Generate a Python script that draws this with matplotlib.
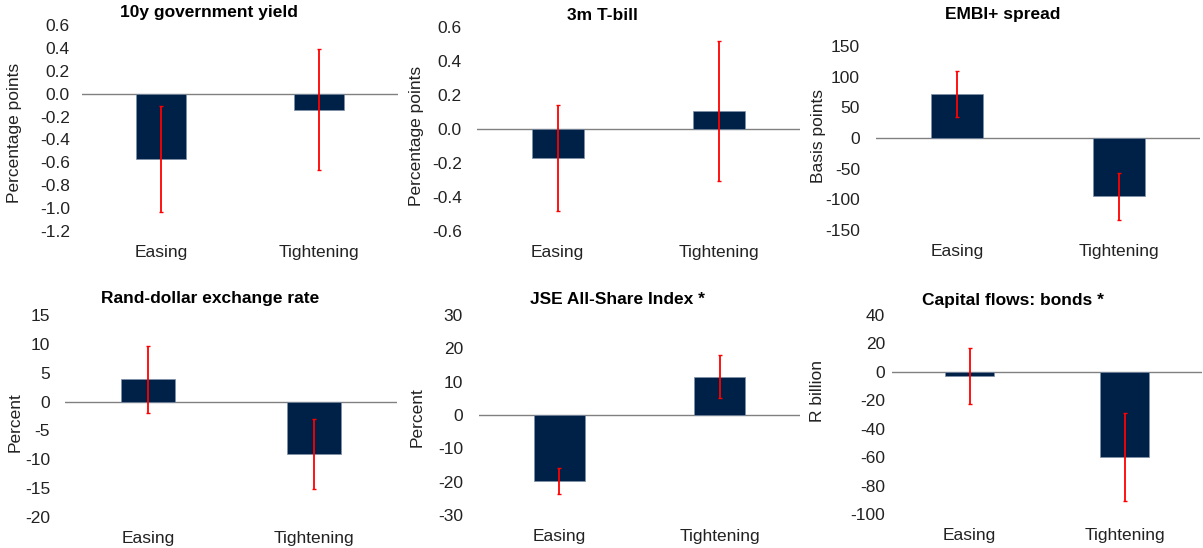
import matplotlib.pyplot as plt
import numpy as np

plt.rcParams['font.family'] = ['Liberation Sans', 'DejaVu Sans']

# Data
categories = ['Easing', 'Tightening']

titles = ['10y government yield', '3m T-bill', 'EMBI+ spread',
          'Rand-dollar exchange rate', 'JSE All-Share Index *', 'Capital flows: bonds *']
ylabels = ['Percentage points', 'Percentage points', 'Basis points',
           'Percent', 'Percent', 'R billion']

yield_10y = [-0.57, -0.14]
yield_10y_err = [0.46, 0.53]
tbill_3m = [-0.17, 0.105]
tbill_3m_err = [0.31, 0.41]
embi_spread = [71, -95]
embi_spread_err = [37.5, 38]
rand_dollar = [3.9, -9.05]
rand_dollar_err = [5.8, 6.1]
jse_alsi = [-19.8, 11.5]
jse_alsi_err = [3.9, 6.5]
bond_flows = [-3.0, -59.7]
bond_flows_err = [19.7, 31]

values = [yield_10y, tbill_3m, embi_spread, rand_dollar, jse_alsi, bond_flows]
errors = [yield_10y_err, tbill_3m_err, embi_spread_err, rand_dollar_err, jse_alsi_err, bond_flows_err]

ylims = [(-1.2, 0.6), (-0.6, 0.6), (-150, 150), (-20, 15), (-30, 30), (-100, 40)]
ysteps = [0.2, 0.2, 50, 5, 10, 20]
decimals = [1, 1, 0, 0, 0, 0]

# layout in pixels: left, right, top, bottom of each plot area
W, H = 1203, 548
boxes = [(82, 398, 25, 231), (477, 800, 27, 231), (876, 1200, 46, 230),
         (65, 397, 315, 517), (479, 800, 315, 515), (892, 1202, 315, 514)]
ypads = [12, 15, 16, 15, 16, 7]
title_pos = [(209, 12), (602, 16), (1003, 15), (210, 298), (617, 299), (1013, 300)]
ylabel_pos = [(15, 133), (417, 136), (818, 136), (15, 422), (417, 417), (818, 391)]

bar_color = '#002147'
fs = 12.5

fig = plt.figure(figsize=(W / 100, H / 100), dpi=100)

for i in range(6):
    l, r, t, b = boxes[i]
    ax = fig.add_axes([l / W, 1 - b / H, (r - l) / W, (b - t) / H])
    x = np.arange(len(categories))
    ax.bar(x, values[i], width=0.32, color=bar_color, edgecolor='#8090a8',
           linewidth=0.5, zorder=2)
    ax.errorbar(x, values[i], yerr=errors[i], fmt='none', ecolor='red',
                elinewidth=1.3, capsize=1.5, capthick=1, zorder=3)
    ax.axhline(0, color='#808080', lw=1, zorder=1)
    lo, hi = ylims[i]
    ticks = np.round(np.arange(lo, hi + ysteps[i] / 2, ysteps[i]), 6)
    ax.set_yticks(ticks)
    ax.set_yticklabels(['{:.{}f}'.format(v + 0.0, decimals[i]) for v in ticks])
    ax.set_ylim(lo, hi)
    ax.set_xlim(-0.5, 1.5)
    ax.set_xticks(x)
    ax.set_xticklabels(categories)
    for s in ax.spines.values():
        s.set_visible(False)
    ax.tick_params(axis='y', length=0, pad=ypads[i] * 0.72, labelsize=fs, colors='#222222')
    ax.tick_params(axis='x', length=0, pad=10, labelsize=fs, colors='#222222')
    ax.patch.set_alpha(0)

    tx, ty = title_pos[i]
    fig.text(tx / W, 1 - ty / H, titles[i], ha='center', va='center',
             fontsize=fs, fontweight='bold', color='black')
    lx, ly = ylabel_pos[i]
    fig.text(lx / W, 1 - ly / H, ylabels[i], ha='center', va='center',
             rotation=90, fontsize=fs, color='#222222')

fig.savefig('out.png', dpi=100)
